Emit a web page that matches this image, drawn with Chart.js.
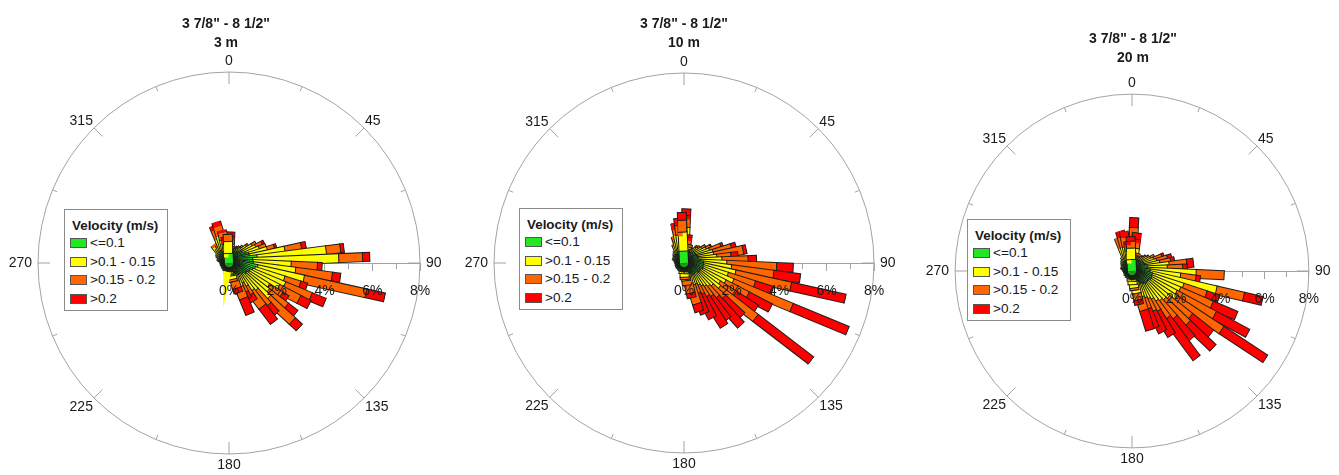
<!DOCTYPE html>
<html>
<head>
<meta charset="utf-8">
<script src="https://cdn.jsdelivr.net/npm/chart.js@4.4.1/dist/chart.umd.min.js"></script>
<style>
  body { margin: 0; background: #fff; font-family: Arial, "Liberation Sans", sans-serif; color: #1a1a1a; }
  #page { position: relative; width: 1339px; height: 475px; overflow: hidden; }
  canvas { position: absolute; top: 0; }
  .title { position: absolute; width: 200px; margin-left: -100px; text-align: center; font-weight: bold; font-size: 14px; line-height: 18.5px; }
  .legend { position: absolute; width: 102px; height: 100px; border: 1px solid #8a8a8a; background: #fff; font-size: 13.6px; }
  .legend .lt { position: absolute; left: 7px; top: 7px; height: 18px; line-height: 18px; font-weight: bold; font-size: 13.4px; white-space: nowrap; }
  .legend .li { position: absolute; left: 5px; height: 18.6px; line-height: 18.6px; white-space: nowrap; }
  .legend .sw { display: inline-block; width: 15px; height: 8px; border: 1px solid #555; margin-right: 3px; vertical-align: -1px; }
</style>
</head>
<body>
<div id="page"></div>
<script>
// direction bins (degrees, clockwise from north), 5 degree sectors
const directions = [
  2.5, 7.5, 12.5, 17.5, 22.5, 27.5, 32.5, 37.5, 42.5, 47.5, 52.5, 57.5,
  62.5, 67.5, 72.5, 77.5, 82.5, 87.5, 92.5, 97.5, 102.5, 107.5, 112.5, 117.5,
  122.5, 127.5, 132.5, 137.5, 142.5, 147.5, 152.5, 157.5, 162.5, 167.5, 172.5, 177.5,
  182.5, 187.5, 192.5, 197.5, 202.5, 207.5, 212.5, 217.5, 222.5, 227.5, 232.5, 237.5,
  242.5, 247.5, 252.5, 257.5, 262.5, 267.5, 272.5, 277.5, 282.5, 287.5, 292.5, 297.5,
  302.5, 307.5, 312.5, 317.5, 322.5, 327.5, 332.5, 337.5, 342.5, 347.5, 352.5, 357.5
];

const radialTicks = [0, 2, 4, 6, 8];
const compassLabels = [0, 45, 90, 135, 180, 225, 270, 315];
const compassMinor = [22.5, 67.5, 112.5, 157.5, 202.5, 247.5, 292.5, 337.5];

const classNames = ['<=0.1', '>0.1 - 0.15', '>0.15 - 0.2', '>0.2'];
const classColors = ['#22e822', '#ffff00', '#ff6600', '#ff0000'];

const titleLine = '3 7/8" - 8 1/2"';
const depthNames = ['3 m', '10 m', '20 m'];

// frequency (%) per direction, 3 m
const m3Green = [
  .4, .4, .4, .35, .4, .35, .4, .45, .45, .5, .6, .7,
  .7, .8, .9, .9, 1.2, 1.0, 1.0, 1.0, 1.2, 1.1, 1.0, .9,
  .9, .8, .8, .7, .7, .6, .6, .6, .5, .5, .45, .4,
  .35, .3, .3, .25, .3, .25, .3, .25, .3, .25, .3, .3,
  .3, .35, .3, .35, .3, .35, .3, .3, .35, .3, .35, .35,
  .4, .4, .45, .45, .5, .5, .5, .6, .6, .5, .5, .4
];
const m3Yellow = [
  .4, .2, .2, .1, .15, .1, .2, .2, .25, .3, .4, .5,
  .6, .6, .8, 1.5, 2.9, 3.6, 1.6, 1.8, 2.0, 1.3, 1.5, 1.4,
  1.0, 1.2, 1.4, .9, .8, .6, .4, .5, .3, .2, .1, .1,
  .1, 0, .05, 0, 0, 0, 0, 0, 0, 0, 0, 0,
  0, 0, 0, 0, 0, 0, 0, 0, 0, 0, 0, 0,
  .1, .1, .15, .2, .4, .3, .3, .5, .6, .5, .3, .5
];
const m3Orange = [
  .3, .1, 0, 0, 0, 0, 0, .1, .1, .1, .1, .2,
  .3, .3, .3, .7, .6, 1.0, 1.1, 1.55, 2.67, .7, 1.2, 1.0,
  .66, 1.0, 1.4, .8, .8, .4, .4, .5, .3, .1, 0, 0,
  0, 0, 0, 0, 0, 0, 0, 0, 0, 0, 0, 0,
  0, 0, 0, 0, 0, 0, 0, 0, 0, 0, 0, 0,
  0, 0, 0, 0, .1, 0, .1, .4, .4, .3, .2, .3
];
const m3Red = [
  .2, 0, 0, 0, 0, 0, 0, 0, 0, 0, 0, 0,
  .1, 0, .1, .2, .15, .3, .2, .35, .8, .3, .63, .48,
  .3, .5, .4, .5, .8, .3, .3, .7, .2, 0, 0, 0,
  0, 0, 0, 0, 0, 0, 0, 0, 0, 0, 0, 0,
  0, 0, 0, 0, 0, 0, 0, 0, 0, 0, 0, 0,
  0, 0, 0, 0, 0, 0, 0, .2, .2, .1, .1, 0
];

// 10 m
const m10Green = [
  .6, .4, .4, .35, .35, .35, .4, .4, .45, .5, .5, .55,
  .6, .6, .6, .6, .6, .6, .7, .8, .8, .8, .8, .8,
  .7, .7, .7, .7, .6, .6, .6, .6, .5, .5, .45, .4,
  .35, .3, .35, .3, .3, .35, .3, .3, .35, .3, .3, .35,
  .3, .35, .3, .35, .3, .3, .35, .3, .35, .3, .35, .35,
  .4, .4, .4, .4, .45, .45, .45, .45, .4, .5, .5, .5
];
const m10Yellow = [
  .9, .4, .3, .2, .15, .1, .15, .2, .2, .3, .35, .4,
  .5, .6, .7, .7, .8, 1.0, 1.1, 1.2, 1.4, 1.1, 1.4, 1.1,
  1.0, 1.1, .8, .7, .7, .6, .5, .4, .5, .4, .3, .2,
  .1, 0, 0, 0, 0, 0, 0, 0, 0, 0, 0, 0,
  0, 0, 0, 0, 0, 0, 0, 0, 0, 0, 0, 0,
  0, .1, .1, .1, .1, .15, .2, .35, .5, .7, .7, .8
];
const m10Orange = [
  .5, .3, .1, 0, 0, 0, 0, 0, .05, .1, .1, .2,
  .2, .5, .8, 1.24, .6, 1.1, 2.1, 1.8, 2.4, 1.2, 2.7, 1.1,
  .8, 2.0, .7, .6, .5, .5, .4, .4, .8, .4, .2, .1,
  0, 0, 0, 0, 0, 0, 0, 0, 0, 0, 0, 0,
  0, 0, 0, 0, 0, 0, 0, 0, 0, 0, 0, 0,
  0, 0, 0, 0, 0, 0, 0, .1, .3, .4, .4, .5
];
const m10Red = [
  .28, .1, 0, 0, 0, 0, 0, 0, 0, 0, 0, 0,
  .05, .1, .2, .14, .3, .36, .7, 1.13, 2.35, .8, 2.55, 1.1,
  1.1, 2.94, 1.1, 1.55, 1.2, 1.44, 1.1, .9, .34, .2, 0, 0,
  0, 0, 0, 0, 0, 0, 0, 0, 0, 0, 0, 0,
  0, 0, 0, 0, 0, 0, 0, 0, 0, 0, 0, 0,
  0, 0, 0, 0, 0, 0, 0, 0, 0, .13, .3, .33
];

// 20 m
const m20Green = [
  .6, .5, .4, .35, .35, .4, .4, .45, .45, .5, .5, .5,
  .55, .6, .6, .6, .6, .7, .7, .8, .8, .9, .9, .9,
  .9, .8, .8, .8, .8, .7, .7, .6, .6, .5, .45, .4,
  .35, .3, .3, .35, .3, .3, .35, .3, .3, .3, .35, .3,
  .35, .3, .3, .35, .3, .35, .3, .3, .35, .3, .35, .4,
  .4, .4, .4, .45, .45, .45, .45, .5, .5, .5, .5, .5
];
const m20Yellow = [
  .6, .5, .3, .2, .1, .1, .15, .2, .2, .25, .3, .4,
  .45, .5, .6, .7, 1.1, .9, 2.2, 1.4, 3.1, 1.5, 1.4, 1.3,
  1.4, 1.2, 1.1, 1.0, .9, .8, .7, .7, .6, .5, .3, .2,
  .1, 0, 0, 0, 0, 0, 0, 0, 0, 0, 0, 0,
  0, 0, 0, 0, 0, 0, 0, 0, 0, 0, 0, 0,
  .1, .1, .1, .1, .15, .2, .3, .6, .6, .6, .4, .5
];
const m20Orange = [
  .7, .4, .1, 0, 0, 0, 0, 0, 0, .05, .1, .1,
  .2, .4, .5, .5, .8, .7, 1.27, .7, 1.27, 1.1, 1.6, 2.0,
  2.5, 1.3, 1.5, 1.0, .9, .6, .6, .5, .6, .3, .1, 0,
  0, 0, 0, 0, 0, 0, 0, 0, 0, 0, 0, 0,
  0, 0, 0, 0, 0, 0, 0, 0, 0, 0, 0, 0,
  0, 0, 0, 0, 0, 0, 0, .49, .45, .4, .3, .3
];
const m20Red = [
  .43, .28, 0, 0, 0, 0, 0, 0, 0, 0, 0, 0,
  0, .1, .2, .18, .3, .2, 0, .2, .86, .6, 1.2, 1.7,
  2.35, 1.2, 1.57, 1.2, 2.2, 1.23, 1.0, .9, .9, .2, 0, 0,
  0, 0, 0, 0, 0, 0, 0, 0, 0, 0, 0, 0,
  0, 0, 0, 0, 0, 0, 0, 0, 0, 0, 0, 0,
  0, 0, 0, 0, 0, 0, 0, 0, .28, .27, .1, .2
];

const roses = [
  { depth: depthNames[0], series: [m3Green, m3Yellow, m3Orange, m3Red] },
  { depth: depthNames[1], series: [m10Green, m10Yellow, m10Orange, m10Red] },
  { depth: depthNames[2], series: [m20Green, m20Yellow, m20Orange, m20Red] }
];

// placement of each rose on the page (pixels)
const frames = [
  { left: 0, width: 455, cx: 229, cy: 263, radius: 191, titleX: 226, titleY: 14, legendX: 64, legendY: 209 },
  { left: 455, width: 450, cx: 684, cy: 263, radius: 190, titleX: 684, titleY: 14, legendX: 519, legendY: 208 },
  { left: 905, width: 434, cx: 1132, cy: 271, radius: 183, titleX: 1133, titleY: 29, legendX: 967, legendY: 219 }
];

const LABEL_FONT = '14px Arial, "Liberation Sans", sans-serif';
const FRAME_GREY = '#a3a3a3';
const OUTLINE = '#1c1c1c';
const BAR_WIDTH = 10;

// circle, compass ticks and compass labels
const compassFrame = {
  id: 'compassFrame',
  beforeDatasetsDraw(chart) {
    const { ctx, scales: { x, y } } = chart;
    const cx = x.getPixelForValue(0), cy = y.getPixelForValue(0);
    const R = x.getPixelForValue(radialTicks[radialTicks.length - 1]) - cx;
    ctx.save();
    ctx.strokeStyle = FRAME_GREY;
    ctx.lineWidth = 1;
    ctx.beginPath();
    ctx.arc(cx, cy, R, 0, Math.PI * 2);
    ctx.stroke();
    const tick = (deg, len) => {
      const a = deg * Math.PI / 180;
      ctx.beginPath();
      ctx.moveTo(cx + R * Math.sin(a), cy - R * Math.cos(a));
      ctx.lineTo(cx + (R - len) * Math.sin(a), cy - (R - len) * Math.cos(a));
      ctx.stroke();
    };
    compassLabels.forEach(d => tick(d, 12));
    compassMinor.forEach(d => tick(d, 5));
    ctx.restore();
  },
  afterDraw(chart) {
    const { ctx, scales: { x, y } } = chart;
    const cx = x.getPixelForValue(0), cy = y.getPixelForValue(0);
    const R = x.getPixelForValue(radialTicks[radialTicks.length - 1]) - cx;
    ctx.save();
    ctx.font = LABEL_FONT;
    ctx.fillStyle = '#1a1a1a';
    compassLabels.forEach(deg => {
      const a = deg * Math.PI / 180;
      const px = cx + R * Math.sin(a), py = cy - R * Math.cos(a);
      let tx = px, ty = py;
      if (deg === 0) { ctx.textAlign = 'center'; ctx.textBaseline = 'bottom'; ty = py - 4; }
      else if (deg === 180) { ctx.textAlign = 'center'; ctx.textBaseline = 'top'; ty = py + 4; }
      else if (deg === 90) { ctx.textAlign = 'left'; ctx.textBaseline = 'middle'; tx = px + 6; }
      else if (deg === 270) { ctx.textAlign = 'right'; ctx.textBaseline = 'middle'; tx = px - 6; }
      else {
        ctx.textAlign = deg < 180 ? 'left' : 'right';
        tx = deg < 180 ? px + 1 : px - 1;
        if (deg === 45 || deg === 315) { ctx.textBaseline = 'alphabetic'; ty = py - 3; }
        else { ctx.textBaseline = 'top'; ty = py + 2; }
      }
      ctx.fillText(String(deg), tx, ty);
    });
    ctx.restore();
  }
};

// one stacked bar per direction: a dark outline line under a line whose
// segments are coloured by velocity class; everything placed by the x/y scales
function buildDatasets(series) {
  const sets = [];
  const n = directions.length;
  directions.forEach((deg, i) => {
    const a = deg * Math.PI / 180;
    const pts = [{ x: 0, y: 0, cls: -1, cap: false }];
    let r = 0;
    series.forEach((vals, c) => {
      if (!vals[i]) return;
      r += vals[i];
      pts.push({ x: r * Math.sin(a), y: r * Math.cos(a), cls: c, cap: true });
    });
    if (r === 0) return;
    const rank = n - i;
    sets.push({
      label: 'outline ' + deg,
      data: [pts[0], pts[pts.length - 1]],
      showLine: true,
      borderColor: OUTLINE,
      borderWidth: BAR_WIDTH,
      borderCapStyle: 'butt',
      clip: false,
      order: 2 * rank + 1,
      pointRadius: 0,
      pointHoverRadius: 0
    });
    sets.push({
      label: 'bar ' + deg,
      data: pts,
      showLine: true,
      borderColor: classColors[0],
      borderWidth: BAR_WIDTH - 2,
      borderCapStyle: 'butt',
      segment: { borderColor: ctx => classColors[pts[ctx.p1DataIndex].cls] },
      clip: false,
      order: 2 * rank,
      pointStyle: 'line',
      pointRadius: ctx => (ctx.raw && ctx.raw.cap ? BAR_WIDTH / 2 : 0),
      pointRotation: deg,
      pointBorderColor: OUTLINE,
      pointBorderWidth: 1,
      pointHoverRadius: 0
    });
  });
  return sets;
}

const page = document.getElementById('page');
const rMax = radialTicks[radialTicks.length - 1];

roses.forEach((rose, n) => {
  const f = frames[n];
  const canvas = document.createElement('canvas');
  canvas.width = f.width;
  canvas.height = 475;
  canvas.style.left = f.left + 'px';
  page.appendChild(canvas);

  const title = document.createElement('div');
  title.className = 'title';
  title.style.left = f.titleX + 'px';
  title.style.top = f.titleY + 'px';
  [titleLine, rose.depth].forEach(t => {
    const d = document.createElement('div');
    d.textContent = t;
    title.appendChild(d);
  });
  page.appendChild(title);

  const legend = document.createElement('div');
  legend.className = 'legend';
  legend.style.left = f.legendX + 'px';
  legend.style.top = f.legendY + 'px';
  const lt = document.createElement('div');
  lt.className = 'lt';
  lt.textContent = 'Velocity (m/s)';
  legend.appendChild(lt);
  classNames.forEach((name, c) => {
    const li = document.createElement('div');
    li.className = 'li';
    li.style.top = (24 + c * 18.6) + 'px';
    const sw = document.createElement('span');
    sw.className = 'sw';
    sw.style.background = classColors[c];
    li.appendChild(sw);
    li.appendChild(document.createTextNode(name));
    legend.appendChild(li);
  });
  page.appendChild(legend);

  new Chart(canvas.getContext('2d'), {
    type: 'scatter',
    data: { datasets: buildDatasets(rose.series) },
    options: {
      responsive: false,
      animation: false,
      events: [],
      layout: {
        padding: {
          left: f.cx - f.left,
          right: f.left + f.width - (f.cx + f.radius),
          top: f.cy - f.radius,
          bottom: 475 - (f.cy + f.radius)
        }
      },
      plugins: { legend: { display: false }, tooltip: { enabled: false } },
      scales: {
        y: { type: 'linear', min: -rMax, max: rMax, display: false },
        x: {
          type: 'linear', min: 0, max: rMax, position: { y: 0 },
          border: { display: true, color: FRAME_GREY, width: 1 },
          grid: { display: true, drawOnChartArea: false, drawTicks: true, tickLength: 5, color: FRAME_GREY },
          ticks: { display: false, stepSize: 1, autoSkip: false }
        },
        xMajor: {
          type: 'linear', min: 0, max: rMax, position: { y: 0 },
          border: { display: false },
          grid: { display: true, drawOnChartArea: false, drawTicks: true, tickLength: 8, color: FRAME_GREY },
          ticks: { display: false, stepSize: 2, autoSkip: false }
        },
        xLabels: {
          type: 'linear', min: 0, max: rMax, position: { y: 0 },
          border: { display: false },
          grid: { display: false, drawTicks: false },
          afterBuildTicks: axis => { axis.ticks = radialTicks.map(v => ({ value: v })); },
          ticks: {
            z: 1, autoSkip: false, maxRotation: 0, padding: 20, color: '#1a1a1a',
            font: { family: 'Arial, "Liberation Sans", sans-serif', size: 14 },
            callback: v => v + '%'
          }
        }
      }
    },
    plugins: [compassFrame]
  });
});
</script>
</body>
</html>
